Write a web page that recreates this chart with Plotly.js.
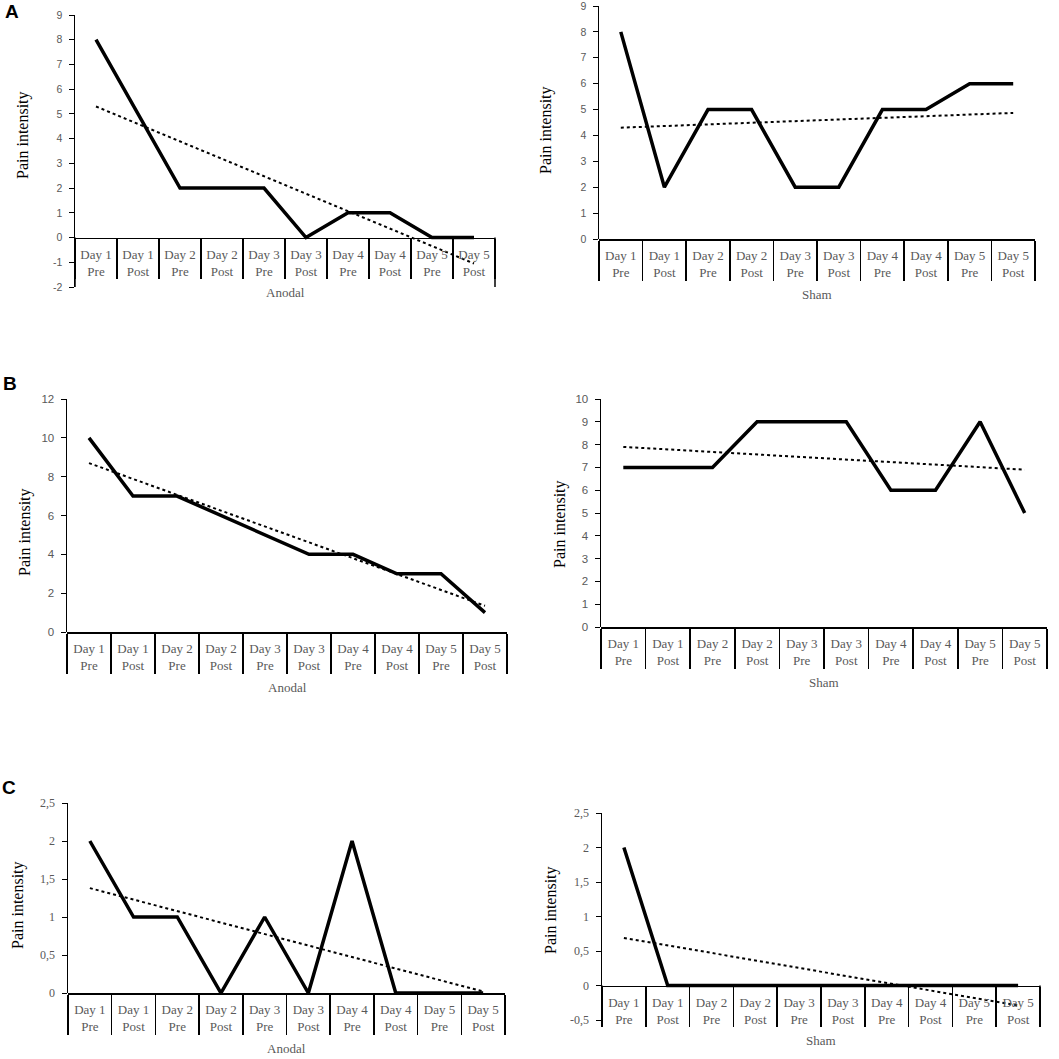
<!DOCTYPE html>
<html>
<head>
<meta charset="utf-8">
<script src="https://cdn.plot.ly/plotly-3.0.1.min.js"></script>
<style>
  body { margin: 0; background: #fff; }
  #chart { width: 1059px; height: 1059px; }
</style>
</head>
<body>
<div id="chart"></div>
<script>
// category labels, shared by all six panels
var cats = ['Day 1<br>Pre', 'Day 1<br>Post', 'Day 2<br>Pre', 'Day 2<br>Post', 'Day 3<br>Pre',
            'Day 3<br>Post', 'Day 4<br>Pre', 'Day 4<br>Post', 'Day 5<br>Pre', 'Day 5<br>Post'];

// pain intensity per session
var anodalA = [8, 5, 2, 2, 2, 0, 1, 1, 0, 0];
var shamA   = [8, 2, 5, 5, 2, 2, 5, 5, 6, 6];
var anodalB = [10, 7, 7, 6, 5, 4, 4, 3, 3, 1];
var shamB   = [7, 7, 7, 9, 9, 9, 6, 6, 9, 5];
var anodalC = [2, 1, 1, 0, 1, 0, 2, 0, 0, 0];
var shamC   = [2, 0, 0, 0, 0, 0, 0, 0, 0, 0];

// dotted linear trend lines (value at first and last session)
var trendAnodalA = [5.3, -1.05];
var trendShamA   = [4.3, 4.87];
var trendAnodalB = [8.7, 1.35];
var trendShamB   = [7.9, 6.9];
var trendAnodalC = [1.38, 0.02];
var trendShamC   = [0.69, -0.29];

// y tick values and labels (Excel prints a plain hyphen and a decimal comma)
var yTicksA1 = [-2, -1, 0, 1, 2, 3, 4, 5, 6, 7, 8, 9];
var yTextA1  = ['-2', '-1', '0', '1', '2', '3', '4', '5', '6', '7', '8', '9'];
var yTicksA2 = [0, 1, 2, 3, 4, 5, 6, 7, 8, 9];
var yTextA2  = ['0', '1', '2', '3', '4', '5', '6', '7', '8', '9'];
var yTicksB1 = [0, 2, 4, 6, 8, 10, 12];
var yTextB1  = ['0', '2', '4', '6', '8', '10', '12'];
var yTicksB2 = [0, 1, 2, 3, 4, 5, 6, 7, 8, 9, 10];
var yTextB2  = ['0', '1', '2', '3', '4', '5', '6', '7', '8', '9', '10'];
var yTicksC1 = [0, 0.5, 1, 1.5, 2, 2.5];
var yTextC1  = ['0', '0,5', '1', '1,5', '2', '2,5'];
var yTicksC2 = [-0.5, 0, 0.5, 1, 1.5, 2, 2.5];
var yTextC2  = ['-0,5', '0', '0,5', '1', '1,5', '2', '2,5'];

var W = 1059, H = 1059;
var GRAY = '#595959';
var SERIF = 'Liberation Serif, Times New Roman, serif';
var SANS = 'Liberation Sans, Arial, sans-serif';

// panel frames in pixels: plot left/right, top/bottom of the y range
var panels = [
  {group: 'Anodal', y: anodalA, trend: trendAnodalA, range: [-2, 9],
   px: [75, 495], py: [15, 287], tickFam: SANS, tickSize: 10.5,
   tv: yTicksA1, tt: yTextA1, title: [23, 135]},
  {group: 'Sham', y: shamA, trend: trendShamA, range: [0, 9],
   px: [599, 1035], py: [6, 239], tickFam: SANS, tickSize: 10.5,
   tv: yTicksA2, tt: yTextA2, title: [546, 130]},
  {group: 'Anodal', y: anodalB, trend: trendAnodalB, range: [0, 12],
   px: [67, 507], py: [399, 632], tickFam: SANS, tickSize: 11.5,
   tv: yTicksB1, tt: yTextB1, title: [25, 532]},
  {group: 'Sham', y: shamB, trend: trendShamB, range: [0, 10],
   px: [601, 1047], py: [399, 627], tickFam: SANS, tickSize: 11.5,
   tv: yTicksB2, tt: yTextB2, title: [560, 524]},
  {group: 'Anodal', y: anodalC, trend: trendAnodalC, range: [0, 2.5],
   px: [68, 505], py: [803, 993], tickFam: SERIF, tickSize: 12,
   tv: yTicksC1, tt: yTextC1, title: [18, 905]},
  {group: 'Sham', y: shamC, trend: trendShamC, range: [-0.5, 2.5],
   px: [602, 1040], py: [813, 1020], tickFam: SERIF, tickSize: 12,
   tv: yTicksC2, tt: yTextC2, title: [551, 910]}
];

var traces = [];
var layout = {
  width: W, height: H,
  margin: {l: 0, r: 0, t: 0, b: 0},
  paper_bgcolor: '#fff', plot_bgcolor: 'rgba(0,0,0,0)',
  showlegend: false,
  font: {family: SERIF, color: '#000'},
  shapes: [],
  annotations: []
};

panels.forEach(function(p, i) {
  var n = i + 1;
  var xa = 'x' + (n === 1 ? '' : n), ya = 'y' + (n === 1 ? '' : n);
  var xk = 'xaxis' + (n === 1 ? '' : n), yk = 'yaxis' + (n === 1 ? '' : n);
  var yDom = [1 - p.py[1] / H, 1 - p.py[0] / H];

  traces.push({x: cats, y: p.y, xaxis: xa, yaxis: ya, type: 'scatter', mode: 'lines',
               line: {color: '#000', width: 3.5}, hoverinfo: 'skip'});
  traces.push({x: [cats[0], cats[cats.length - 1]], y: p.trend, xaxis: xa, yaxis: ya,
               type: 'scatter', mode: 'lines',
               line: {color: '#000', width: 2, dash: 'dot'}, hoverinfo: 'skip'});

  // category axis sits on the zero line
  layout[xk] = {
    type: 'category', domain: [p.px[0] / W, p.px[1] / W],
    anchor: 'free',
    position: yDom[0] + (0 - p.range[0]) / (p.range[1] - p.range[0]) * (yDom[1] - yDom[0]),
    range: [-0.5, cats.length - 0.5],
    showline: true, linecolor: '#000', linewidth: 1.5,
    ticks: 'outside', tickson: 'boundaries', ticklen: 40, tickwidth: 1.5, tickcolor: '#000',
    ticklabelstandoff: 4,
    tickfont: {family: SERIF, size: 13, color: GRAY},
    showgrid: false, zeroline: false, fixedrange: true
  };
  layout[yk] = {
    domain: yDom, anchor: xa, range: p.range,
    showline: true, linecolor: '#000', linewidth: 1.5,
    ticks: 'outside', ticklen: 5, tickwidth: 1, tickcolor: '#000',
    tickmode: 'array', tickvals: p.tv, ticktext: p.tt,
    ticklabelstandoff: 4, ticklabeloverflow: 'allow',
    tickfont: {family: p.tickFam, size: p.tickSize, color: GRAY},
    showgrid: false, zeroline: false, fixedrange: true
  };

  // outer group bracket lines
  [0, 1].forEach(function(edge) {
    layout.shapes.push({type: 'line', xref: xa + ' domain', x0: edge, x1: edge,
                        yref: ya, ysizemode: 'pixel', yanchor: 0, y0: 0, y1: -64,
                        line: {color: '#000', width: 1.5}});
  });
  layout.annotations.push({text: p.group, xref: xa + ' domain', x: 0.5, yref: ya, y: 0,
                           xanchor: 'center', yanchor: 'middle',
                           yshift: -55, showarrow: false,
                           font: {family: SERIF, size: 13, color: GRAY}});
  layout.annotations.push({text: 'Pain intensity', xref: 'paper', yref: 'paper',
                           x: p.title[0] / W, y: 1 - p.title[1] / H, textangle: -90,
                           xanchor: 'center', yanchor: 'middle',
                           showarrow: false,
                           font: {family: SERIF, size: 16, color: '#000'}});
});

// panel letters
[['A', 12, 12], ['B', 10, 383], ['C', 9, 787]].forEach(function(l) {
  layout.annotations.push({text: '<b>' + l[0] + '</b>', xref: 'paper', yref: 'paper',
                           x: l[1] / W, y: 1 - l[2] / H, xanchor: 'center', yanchor: 'middle',
                           showarrow: false,
                           font: {family: SANS, size: 19, color: '#000'}});
});

Plotly.newPlot(document.getElementById('chart'), traces, layout, {displayModeBar: false, staticPlot: true});
</script>
</body>
</html>
